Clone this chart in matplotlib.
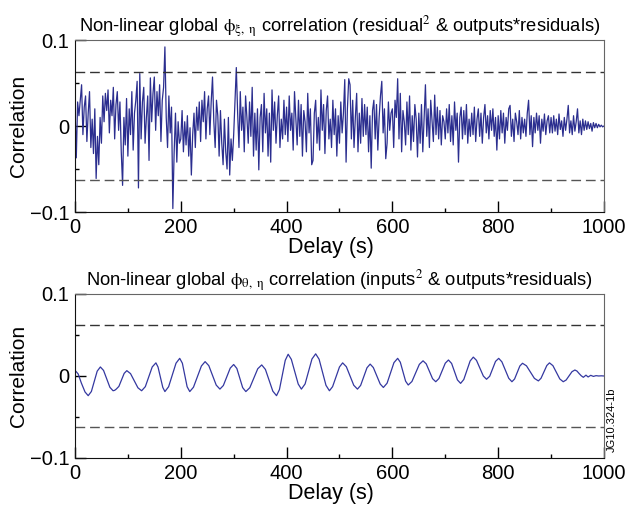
import matplotlib.pyplot as plt
import numpy as np

plt.rcParams['font.family'] = ['Liberation Sans', 'DejaVu Sans']
plt.rcParams['mathtext.fontset'] = 'stix'

# top panel: residual^2 & outputs*residuals, one value every 2.5 s (units of 1e-3)
step1 = 2.5
corr1_milli = [
    25, -37, 28, 12, 30, 48, -10, 22, 35, -18, 15, 40, -25, 8, -32, 20, -61, -12, -45, 10,
    -20, 35, 5, 38, 18, 42, -8, 30, 12, 45, -15, 25, 40, -5, 28, -30, -69, 10, -22, 32,
    -35, 20, -10, 40, -28, 15, 30, 52, -72, 61, -15, 28, 45, -20, 10, 35, -40, 56, 5, 38,
    57, -5, 40, 12, 48, -18, 30, 45, 92, 10, -25, 35, -8, 22, -96, -30, 15, -42, 5, -20,
    -15, 18, -30, 5, -22, 12, -35, -2, -57, -10, 15, -25, 22, -5, 28, -18, 30, 5, 40, -15,
    20, 35, -10, 28, 57, 5, -25, 30, 12, -35, 18, -20, -45, 8, -30, -50, 10, -57, -15, -40,
    -10, 30, 68, 15, -25, 40, -5, 22, -30, 35, 10, -20, 28, -12, 45, -35, 15, -28, 20, -51,
    10, 25, -30, 38, -8, 20, -35, 15, -42, 42, -5, 28, -20, 12, 35, -25, 8, -15, 30, -10,
    22, -18, 35, -5, 15, -28, 40, 10, -22, 30, -12, 25, -35, 18, 5, -30, 38, -8, 20, -45,
    -40, 15, 30, -20, 10, -28, 42, -5, 25, -32, 18, 35, -15, 8, -25, 30, -10, 20, -35, 12,
    -20, 28, -8, 15, 54, -42, 20, 55, 48, -15, 30, -25, 10, 38, -30, 15, -20, 32, -12, 25,
    -10, 22, -30, 12, -49, 18, 30, -15, 25, -28, 10, 35, 52, -8, 20, -38, -20, 28, -5, 15,
    20, -25, 30, 10, 55, -15, 38, -30, 18, 5, -22, 28, -10, 35, -28, 12, -18, 25, 8, -36,
    15, -20, 25, -30, 10, 48, -12, 20, -25, 30, 5, -18, 36, -10, 22, -15, 18, -22, 12, 5,
    -15, 20, -8, 25, -18, 12, -22, 28, -5, 15, -42, 10, 22, -15, 18, -10, 25, -20, 8, -12,
    15, -10, 22, -18, 8, 20, -12, 15, -20, 10, 25, -8, 12, -15, 18, -5, 20, -12, 10, -28,
    12, -15, 18, -8, 15, -20, 10, -5, 20, 24, -12, 8, -18, 15, 5, -10, 18, -15, 10, -8,
    8, -12, 15, 30, -10, 12, -24, 10, -8, 15, -5, 12, -20, 8, -6, 14, -10, 6, 12, -8,
    10, -8, 12, -6, 8, -10, 14, -4, 6, -12, 10, -5, 8, 24, -8, 6, -10, 12, -6, 5,
    20, -8, 6, -10, 8, -5, 6, -4, 5, -3, 3, -6, 4, -2, 3, -2, 2, -1, 1, -1,
    0,
]

# bottom panel: inputs^2 & outputs*residuals
delay2 = [
    0, 6, 12, 19, 25, 31, 36.5, 42, 48, 54, 60, 66, 72, 75, 78, 83, 88, 93, 98,
    105, 112, 119, 126, 133, 139.5, 146, 153, 157, 161.5, 166, 170, 177, 184, 191, 198,
    203, 207.5, 212, 217, 224, 231.5, 239, 246, 253, 260, 267, 274, 280.5, 287, 293.5, 300,
    306, 311.5, 317, 323, 330.5, 338, 345.5, 353, 360, 367, 374, 381, 386.5, 392, 397.5, 403,
    409, 415.5, 422, 428, 435, 441.5, 448, 455, 461.5, 468, 474.5, 481, 487, 493.5, 500, 506,
    513, 520, 527, 534, 540, 546, 552, 558, 564, 570.5, 577, 583, 590, 596.5, 603, 610,
    615, 620, 625, 630, 637, 644, 651, 658, 664, 670, 676, 682, 688, 694, 700, 706,
    712, 717.5, 723, 729, 735, 741, 747, 753, 759, 765.5, 772, 778, 784, 789.5, 795, 801,
    807, 813.5, 820, 826, 831, 836, 841, 846, 853.5, 861, 868.5, 876, 881, 886.5, 892, 897,
    903.5, 910, 916.5, 923, 928.5, 934, 939.5, 945, 949, 953, 957, 961,
    966, 970, 975, 980, 985, 990, 995, 1000,
]
corr2 = [
    0.007, 0.0025, -0.0085, -0.0195, -0.024, -0.0189, -0.0065, 0.0059, 0.011, 0.0068, -0.0035, -0.0138, -0.018, -0.0175, -0.016, -0.0127, -0.0048, 0.0032, 0.0065,
    0.0029, -0.0058, -0.0144, -0.018, -0.013, -0.001, 0.011, 0.016, 0.0109, -0.0015, -0.0139, -0.019, -0.0131, 0.0013, 0.0156, 0.0215,
    0.0156, 0.0013, -0.0131, -0.019, -0.0137, -0.0008, 0.0122, 0.0175, 0.0126, 0.0008, -0.0111, -0.016, -0.0116, -0.001, 0.0096, 0.014,
    0.0092, -0.0025, -0.0142, -0.019, -0.0143, -0.0028, 0.0088, 0.0135, 0.008, -0.0053, -0.0185, -0.024, -0.0166, 0.0013, 0.0191, 0.0265,
    0.0203, 0.0053, -0.0098, -0.016, -0.0097, 0.0055, 0.0207, 0.027, 0.0204, 0.0045, -0.0114, -0.018, -0.013, -0.001, 0.011, 0.016,
    0.0113, 0.0, -0.0113, -0.016, -0.0115, -0.0008, 0.01, 0.0145, 0.0103, 0.0003, -0.0098, -0.014, -0.0088, 0.0038, 0.0163, 0.0215,
    0.0168, 0.0053, -0.0063, -0.011, -0.0067, 0.0038, 0.0142, 0.0185, 0.0148, 0.0058, -0.0033, -0.007, -0.0031, 0.0063, 0.0156, 0.0195,
    0.0153, 0.0053, -0.0048, -0.009, -0.0043, 0.007, 0.0183, 0.023, 0.0191, 0.0095, -0.0001, -0.004, -0.0003, 0.0088, 0.0178, 0.0215,
    0.0173, 0.0073, -0.0028, -0.007, -0.0037, 0.0043, 0.0122, 0.0155, 0.0124, 0.0048, -0.0029, -0.006, -0.0028, 0.005, 0.0128, 0.016,
    0.0126, 0.0045, -0.0036, -0.007, -0.0049, 0.0002, 0.0052, 0.0073, 0.006, 0.003, 0.0003, -0.0016,
    0.001, -0.0012, 0.0008, -0.0005, 0.0004, 0.0, 0.0002, 0.0,
]

limit = 0.0625
titles = [
    r'Non-linear global $\mathrm{\phi_{\xi,\ \eta}}$ correlation (residual$^2$ & outputs*residuals)',
    r'Non-linear global $\mathrm{\phi_{\theta,\ \eta}}$ correlation (inputs$^2$ & outputs*residuals)',
]

delay1 = np.arange(len(corr1_milli)) * step1
corr1 = np.array(corr1_milli) / 1000.0

fig = plt.figure(figsize=(6.29, 5.12), dpi=100)
ax1 = fig.add_axes([0.1192, 0.5859, 0.841, 0.3359])
ax2 = fig.add_axes([0.1192, 0.1055, 0.841, 0.3203])

ax1.plot(delay1, corr1, color='#2b2e8f', lw=0.9)
ax2.plot(delay2, corr2, color='#3438a0', lw=0.9)

for ax, title in zip([ax1, ax2], titles):
    ax.axhline(limit, color='#333333', ls=(0, (7, 3.5)), lw=1.0)
    ax.axhline(-limit, color='#555555', ls=(0, (7, 3.5)), lw=1.0)
    ax.set_xlim(0, 1000)
    ax.set_ylim(-0.1, 0.1)
    ax.set_xticks([0, 200, 400, 600, 800, 1000])
    ax.set_xticks([100, 300, 500, 700, 900], minor=True)
    ax.set_yticks([-0.1, 0, 0.1])
    ax.set_yticklabels(['\u22120.1', '0', '0.1'])
    ax.set_yticks([-0.05, 0.05], minor=True)
    ax.tick_params(which='both', direction='in', labelsize=14.5, width=1,
                   top=False, right=False, pad=4)
    ax.tick_params(which='major', length=8)
    ax.tick_params(which='minor', length=3)
    for side in ['left', 'bottom']:
        ax.spines[side].set_color('#111111')
    for side in ['top', 'right']:
        ax.spines[side].set_color('#666666')
    ax.set_xlabel('Delay (s)', fontsize=15.5, labelpad=0, x=0.483)
    ax.set_ylabel('Correlation', fontsize=15, labelpad=1)
    ax.set_title(title, fontsize=13.2, pad=3)

fig.text(0.973, 0.18, 'JG10.324-1b', rotation=90, fontsize=8,
         ha='center', va='center')

fig.savefig('out.png', dpi=100)
